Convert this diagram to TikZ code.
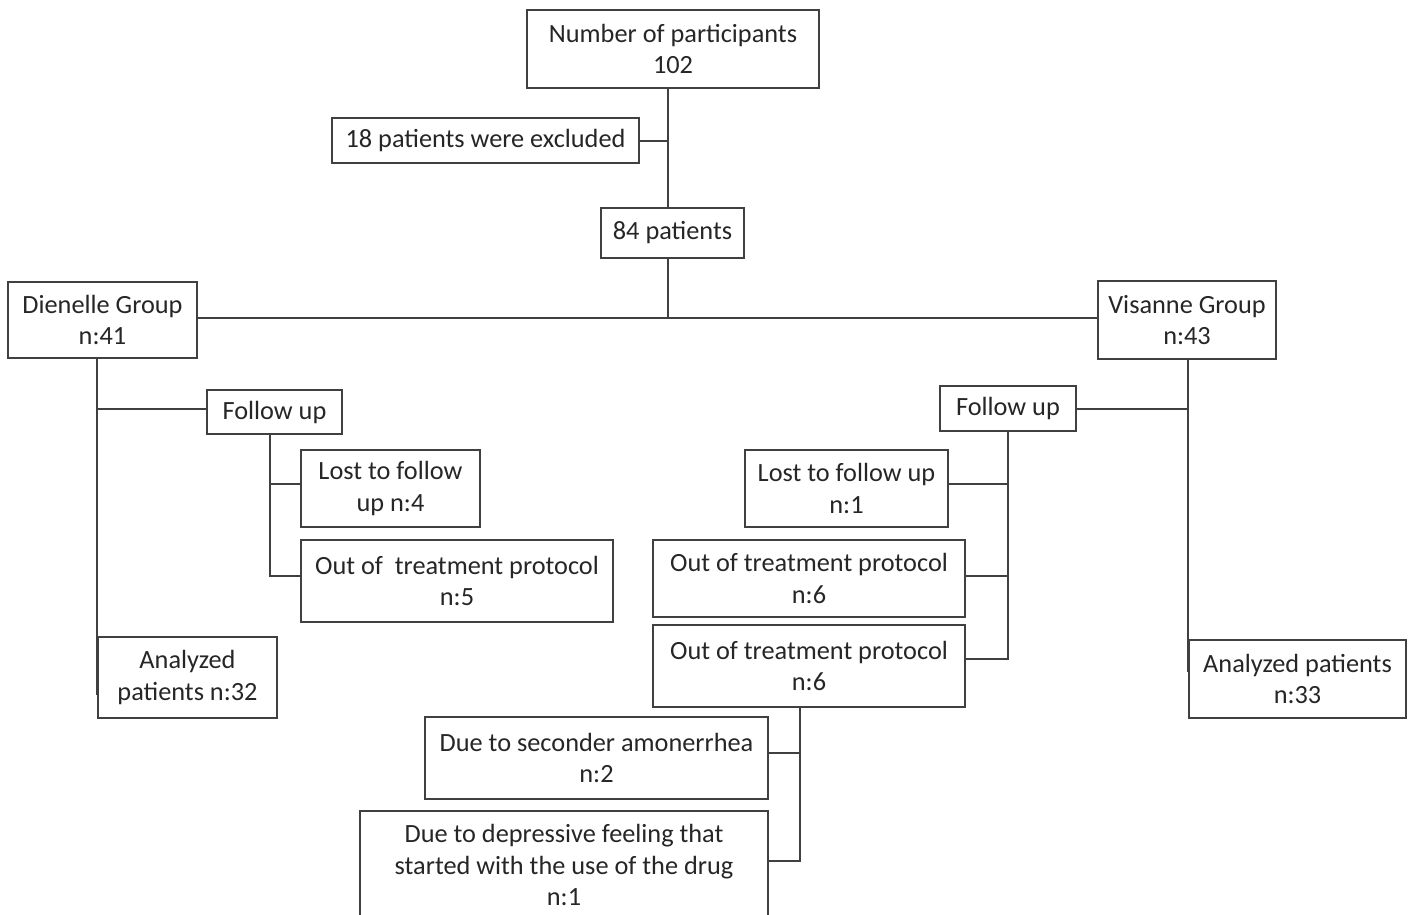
\documentclass[tikz,border=0pt]{standalone}
\usepackage{fontspec}
\setmainfont{Carlito}
\definecolor{linec}{RGB}{64,64,64}
\definecolor{textc}{RGB}{38,38,38}
\begin{document}
\begin{tikzpicture}[x=1pt,y=-1pt,
  box/.style={draw=linec, line width=1.3pt, inner sep=0pt, align=center, text=textc,
    font=\fontsize{26.3}{31.5}\selectfont},
  conn/.style={draw=linec, line width=1.3pt}]
\clip (0,0) rectangle (1409,914);
\fill[white] (0,0) rectangle (1409,914);
% nodes
\node[box, minimum width=292pt, minimum height=78pt] (np) at (673,49) {Number of participants\\102};
\node[box, minimum width=307pt, minimum height=45pt] (excl) at (485.5,140.5) {18 patients were excluded};
\node[box, minimum width=143pt, minimum height=50pt] (p84) at (672.5,233) {84 patients};
\node[box, minimum width=189pt, minimum height=76pt] (dien) at (102.5,320) {Dienelle Group\\n:41};
\node[box, minimum width=178pt, minimum height=78pt] (vis) at (1187,320) {Visanne Group\\n:43};
\node[box, minimum width=135pt, minimum height=44pt] (fuL) at (274.5,412) {Follow up};
\node[box, minimum width=179pt, minimum height=77pt] (lostL) at (390.5,488.5) {Lost to follow\\up n:4};
\node[box, minimum width=312pt, minimum height=82pt] (outL) at (457,581) {Out of\ \ treatment protocol\\n:5};
\node[box, minimum width=179pt, minimum height=81pt] (anaL) at (187.5,677.5) {Analyzed\\patients n:32};
\node[box, minimum width=136pt, minimum height=45pt] (fuR) at (1008,408.5) {Follow up};
\node[box, minimum width=203pt, minimum height=77pt] (lostR) at (846.5,488.5) {Lost to follow up\\n:1};
\node[box, minimum width=312pt, minimum height=77pt] (outa) at (809,578.5) {Out of treatment protocol\\n:6};
\node[box, minimum width=312pt, minimum height=82pt] (outb) at (809,666) {Out of treatment protocol\\n:6};
\node[box, minimum width=217pt, minimum height=78pt] (anaR) at (1297.5,679) {Analyzed patients\\n:33};
\node[box, minimum width=343pt, minimum height=82pt] (due2) at (596.5,758) {Due to seconder amonerrhea\\n:2};
\node[box, minimum width=408pt, minimum height=108pt] (due1) at (564,865) {Due to depressive feeling that\\started with the use of the drug\\n:1};
% junction coordinates
\coordinate (jT) at (668,141);
\coordinate (jH) at (668,318);
\coordinate (cL) at (97,695);
\coordinate (jFL) at (97,409);
\coordinate (cF) at (270,576);
\coordinate (jLL) at (270,484);
\coordinate (cR) at (1188,672);
\coordinate (jFR) at (1188,409);
\coordinate (cF2) at (1008,659);
\coordinate (jLR) at (1008,484);
\coordinate (jOA) at (1008,576);
\coordinate (cD) at (800,861);
\coordinate (jD2) at (800,753);
% connectors
\draw[conn] (np.south -| jT) -- (p84.north -| jT);
\draw[conn] (excl.east |- jT) -- (jT);
\draw[conn] (p84.south -| jH) -- (jH);
\draw[conn] (dien.east |- jH) -- (vis.west |- jH);
\draw[conn] (dien.south -| cL) -- (cL);
\draw[conn] (fuL.west |- jFL) -- (jFL);
\draw[conn] (fuL.south -| cF) -- (cF) -- (outL.west |- cF);
\draw[conn] (lostL.west |- jLL) -- (jLL);
\draw[conn] (vis.south -| cR) -- (cR);
\draw[conn] (fuR.east |- jFR) -- (jFR);
\draw[conn] (fuR.south -| cF2) -- (cF2) -- (outb.east |- cF2);
\draw[conn] (lostR.east |- jLR) -- (jLR);
\draw[conn] (outa.east |- jOA) -- (jOA);
\draw[conn] (outb.south -| cD) -- (cD) -- (due1.east |- cD);
\draw[conn] (due2.east |- jD2) -- (jD2);
\end{tikzpicture}
\end{document}
